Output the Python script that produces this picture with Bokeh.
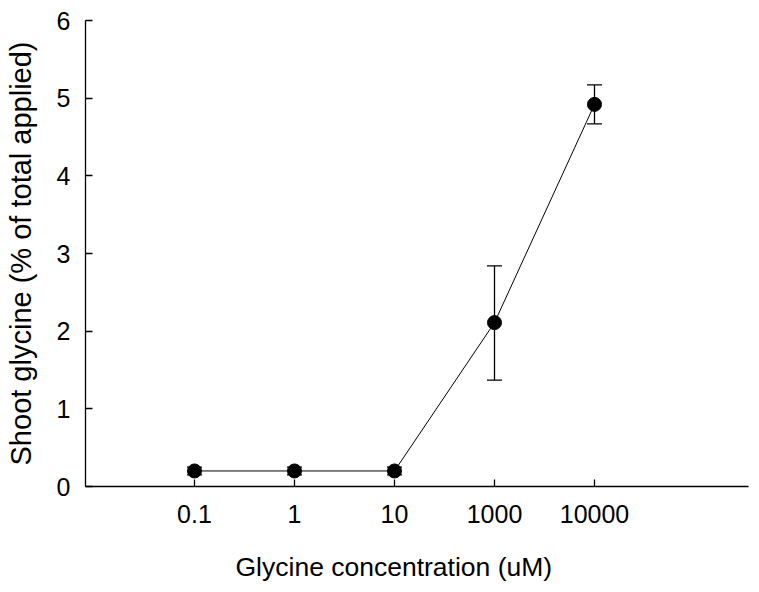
from bokeh.plotting import figure
from bokeh.models import ColumnDataSource, Whisker, TeeHead, FixedTicker, Range1d, Title
from bokeh.embed import file_html
from bokeh.resources import INLINE

categories = ["0.1", "1", "10", "1000", "10000"]
means = [0.20, 0.20, 0.20, 2.11, 4.92]
upper = [0.25, 0.25, 0.25, 2.84, 5.17]
lower = [0.15, 0.15, 0.15, 1.37, 4.67]
y_ticks = [0, 1, 2, 3, 4, 5, 6]

xpos = list(range(1, len(categories) + 1))
src = ColumnDataSource(dict(x=xpos, y=means, upper=upper, lower=lower))

p = figure(width=753, height=590, output_backend="svg", toolbar_location=None,
           x_range=Range1d(-0.09, 6.54), y_range=Range1d(0, 6))
p.min_border_left = 85
p.min_border_top = 20
p.min_border_right = 5
p.min_border_bottom = 104
p.outline_line_color = None
p.xgrid.visible = False
p.ygrid.visible = False
p.background_fill_color = "white"
p.border_fill_color = "white"

p.line("x", "y", source=src, line_color="black", line_width=1)
w = Whisker(base="x", upper="upper", lower="lower", source=src,
            line_color="black", line_width=1.3,
            upper_head=TeeHead(size=15, line_color="black", line_width=1.3),
            lower_head=TeeHead(size=15, line_color="black", line_width=1.3))
p.add_layout(w)
p.scatter("x", "y", source=src, size=14, fill_color="black", line_color="black")

font = "Liberation Sans"
p.xaxis.ticker = FixedTicker(ticks=xpos)
p.xaxis.major_label_overrides = {i: c for i, c in zip(xpos, categories)}
p.yaxis.ticker = FixedTicker(ticks=y_ticks)
for ax in (p.xaxis, p.yaxis):
    ax.axis_line_color = "black"
    ax.axis_line_width = 1.3
    ax.major_tick_line_color = "black"
    ax.major_tick_line_width = 1.3
    ax.major_tick_in = 7
    ax.major_tick_out = 0
    ax.minor_tick_line_color = None
    ax.major_label_text_font = font
    ax.major_label_text_font_size = "25px"
    ax.major_label_text_color = "black"
    ax.axis_label_text_font = font
    ax.axis_label_text_font_style = "normal"
    ax.axis_label_text_color = "black"

p.yaxis.axis_label = "Shoot glycine (% of total applied)"
p.yaxis.axis_label_text_font_size = "29px"
p.xaxis.major_label_standoff = 18
p.yaxis.major_label_standoff = 15
p.yaxis.axis_label_standoff = 17
# blank spacer label to push the offset x-axis title down
p.xaxis.axis_label = " "
p.xaxis.axis_label_text_font_size = "10px"
p.xaxis.axis_label_standoff = 9

xtitle = Title(text="Glycine concentration (uM)", align="left", offset=150,
               text_font=font, text_font_size="26.5px", text_font_style="normal",
               text_color="black", standoff=2)
p.add_layout(xtitle, "below")

open("out.html", "w").write(file_html(p, INLINE))
